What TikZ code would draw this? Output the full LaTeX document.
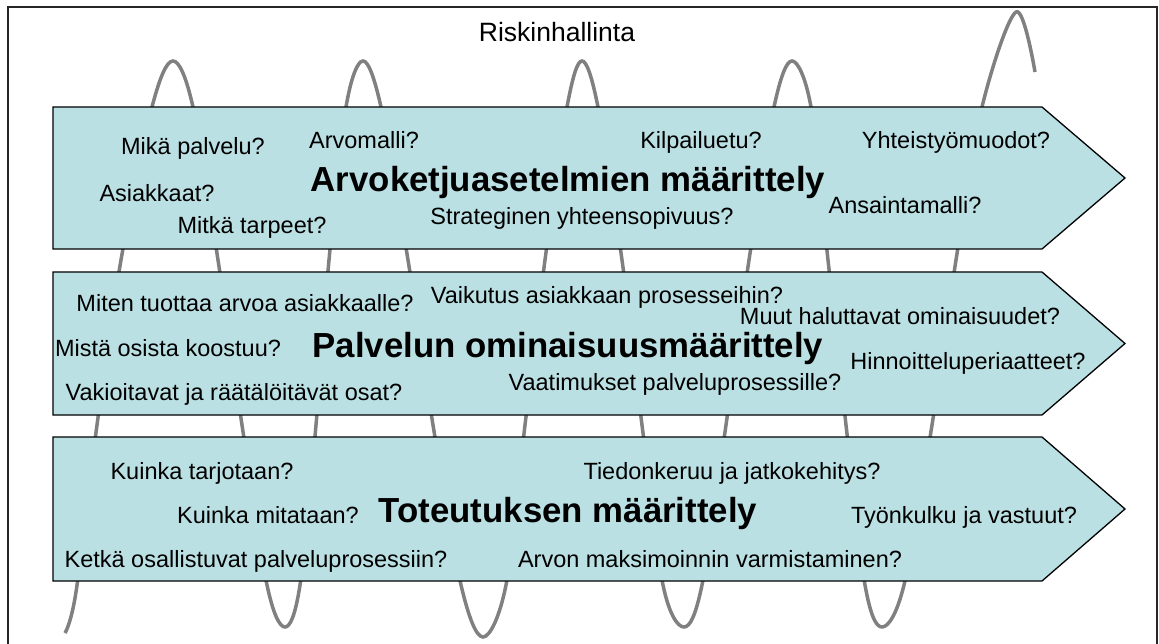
\documentclass[tikz,border=0pt]{standalone}
\usepackage{fontspec}
\setmainfont{Liberation Sans}
\definecolor{bandfill}{RGB}{187,224,227}
\definecolor{coilgray}{RGB}{128,128,128}
\tikzset{
  frame/.style={draw=black!85, line width=1.5pt},
  band/.style={draw=black, line width=1.3pt, fill=bandfill, line join=miter},
  coil/.style={draw=coilgray, line width=3.5pt},
  ask/.style={font=\fontsize{23.5}{28}\selectfont, anchor=base, inner sep=0pt},
  head/.style={font=\bfseries\fontsize{34.8}{40}\selectfont, anchor=base, inner sep=0pt},
  topic/.style={font=\fontsize{26.5}{31}\selectfont, anchor=base, inner sep=0pt},
}
\begin{document}
\begin{tikzpicture}[x=1pt, y=-1pt]
\useasboundingbox (0,0) rectangle (1159,644);
\clip (0,0) rectangle (1159,644);

% outer frame (its lower edge runs off the page)
\draw[frame] (8,7) rectangle (1157,670);

% risk management coil running behind the three phases
\draw[coil] plot[smooth, tension=0.55] coordinates {
  (65,633) (76,592) (97,425) (121,260) (152,107) (173,61)
  (193,107) (218,260) (242,425) (267,585) (285,627)
  (300,585) (316,425) (329,260) (346,107) (363,61)
  (381,107) (408,260) (433,425) (461,585) (483,637)
  (506,585) (525,425) (545,260) (567,107) (582,61)
  (598,107) (622,260) (642,425) (663,585) (684,627)
  (702,585) (726,425) (749,260) (774,107) (792,61)
  (811,107) (828,260) (846,425) (865,585) (882,627)
  (904,585) (932,425) (956,260) (982,107) (1016,12)
  (1035,72)
};

\node[topic] (risk) at (557,42) {Riskinhallinta};

% phase 1
\draw[band] (53,107) -- (1042,107) -- (1125,178) -- (1042,249) -- (53,249) -- cycle;
\node[head] (p1) at (568,192) {Arvoketjuasetelmien määrittely};
\node[ask] (q11) at (193,155) {Mikä palvelu?};
\node[ask] (q12) at (364,149) {Arvomalli?};
\node[ask] (q13) at (157,202) {Asiakkaat?};
\node[ask] (q14) at (252,234) {Mitkä tarpeet?};
\node[ask] (q15) at (582,225) {Strateginen yhteensopivuus?};
\node[ask] (q16) at (701,149) {Kilpailuetu?};
\node[ask] (q17) at (956,149) {Yhteistyömuodot?};
\node[ask] (q18) at (905,214) {Ansaintamalli?};

% phase 2
\draw[band] (53,272) -- (1042,272) -- (1125,343.5) -- (1042,415) -- (53,415) -- cycle;
\node[head] (p2) at (568,357) {Palvelun ominaisuusmäärittely};
\node[ask] (q21) at (245,312) {Miten tuottaa arvoa asiakkaalle?};
\node[ask] (q22) at (607,304) {Vaikutus asiakkaan prosesseihin?};
\node[ask] (q23) at (900,324) {Muut haluttavat ominaisuudet?};
\node[ask] (q24) at (168,356) {Mistä osista koostuu?};
\node[ask] (q25) at (968,369) {Hinnoitteluperiaatteet?};
\node[ask] (q26) at (234,400) {Vakioitavat ja räätälöitävät osat?};
\node[ask] (q27) at (675,390) {Vaatimukset palveluprosessille?};

% phase 3
\draw[band] (53,437) -- (1042,437) -- (1125,509) -- (1042,581) -- (53,581) -- cycle;
\node[head] (p3) at (568,522) {Toteutuksen määrittely};
\node[ask] (q31) at (202,479) {Kuinka tarjotaan?};
\node[ask] (q32) at (732,479) {Tiedonkeruu ja jatkokehitys?};
\node[ask] (q33) at (268,523) {Kuinka mitataan?};
\node[ask] (q34) at (964,523) {Työnkulku ja vastuut?};
\node[ask] (q35) at (256,567) {Ketkä osallistuvat palveluprosessiin?};
\node[ask] (q36) at (710,567) {Arvon maksimoinnin varmistaminen?};
\end{tikzpicture}
\end{document}
